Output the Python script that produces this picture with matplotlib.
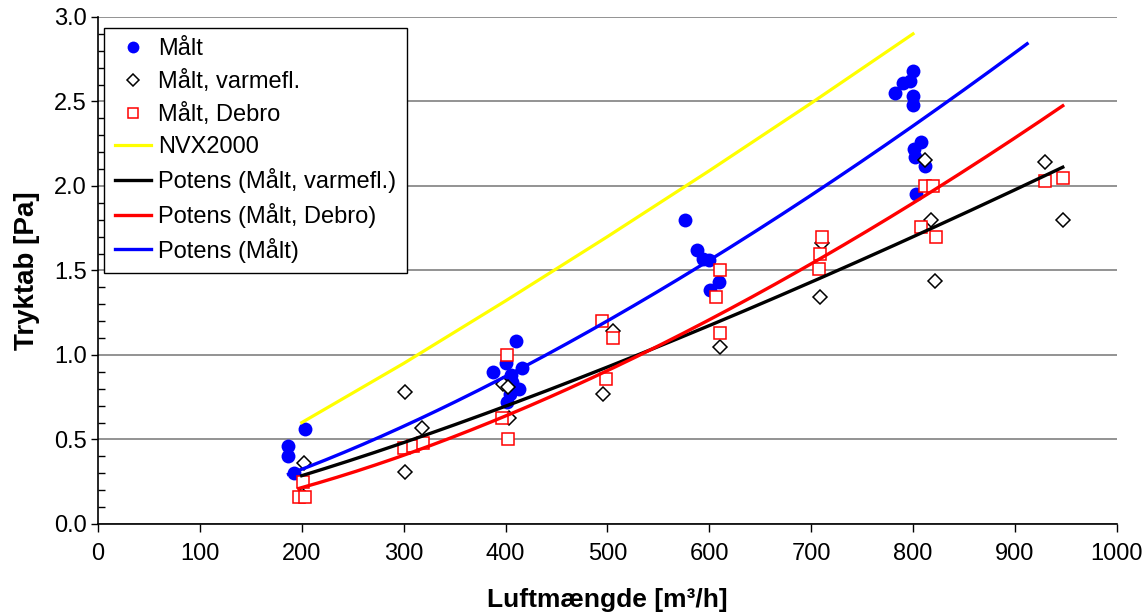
import numpy as np
import matplotlib
matplotlib.use("Agg")
import matplotlib.pyplot as plt
from matplotlib.ticker import MultipleLocator, FormatStrFormatter

plt.rcParams['font.family'] = ['Liberation Sans', 'DejaVu Sans']

# Målt (blue dots)
malt_x = [187, 187, 192, 203, 388, 400, 401, 404, 405, 406, 410, 413, 416,
          576, 588, 594, 600, 601, 610,
          782, 790, 797, 800, 800, 800, 801, 802, 808, 812, 803]
malt_y = [0.46, 0.40, 0.30, 0.56, 0.90, 0.95, 0.72, 0.77, 0.88, 0.84, 1.08, 0.80, 0.92,
          1.80, 1.62, 1.57, 1.56, 1.385, 1.43,
          2.55, 2.61, 2.62, 2.68, 2.53, 2.48, 2.22, 2.17, 2.26, 2.12, 1.95]

# Målt, varmefl. (diamonds)
varm_x = [200, 202, 301, 301, 318, 398, 402, 403, 496, 506, 611, 709, 711, 812, 818, 822, 930, 947]
varm_y = [0.17, 0.36, 0.78, 0.31, 0.57, 0.83, 0.81, 0.63, 0.77, 1.14, 1.045, 1.345, 1.66,
          2.155, 1.80, 1.44, 2.14, 1.80]

# Målt, Debro (squares)
debro_x = [197, 203, 201, 300, 309, 319, 401, 397, 402, 495, 506, 499, 611, 607, 611,
           711, 709, 708, 812, 820, 808, 823, 930, 947]
debro_y = [0.16, 0.16, 0.25, 0.45, 0.46, 0.48, 1.00, 0.63, 0.50, 1.20, 1.10, 0.86, 1.50, 1.345, 1.13,
           1.70, 1.60, 1.51, 2.00, 2.00, 1.76, 1.70, 2.03, 2.05]

# NVX2000
nvx_x = [200, 300, 400, 500, 600, 700, 800]
nvx_y = [0.60, 0.95, 1.32, 1.70, 2.09, 2.49, 2.90]

# power trendlines y = a * x^b
varm_fit = (3.14e-4, 1.286)
debro_fit = (5.22e-5, 1.571)
malt_fit = (1.64e-4, 1.432)


def trend(x, coef, forward=0):
    a, b = coef
    xs = np.linspace(min(x), max(x) + forward, 200)
    return xs, a * xs ** b


fig = plt.figure(figsize=(11.46, 6.15), dpi=100)
ax = fig.add_axes([0.0855, 0.148, 0.889, 0.8244])

ax.plot(malt_x, malt_y, 'o', color='#0000ff', markersize=10, markeredgewidth=0,
        label='Målt', zorder=3)
ax.plot(varm_x, varm_y, 'D', color='k', markerfacecolor='white', markersize=7,
        markeredgewidth=1.1, label='Målt, varmefl.', zorder=4)
ax.plot(debro_x, debro_y, 's', color='#ff0000', markerfacecolor='white', markersize=9,
        markeredgewidth=1.1, label='Målt, Debro', zorder=5)
ax.plot(nvx_x, nvx_y, '-', color='#ffff00', linewidth=2.3, label='NVX2000', zorder=6)

xs, ys = trend(varm_x, varm_fit)
ax.plot(xs, ys, '-', color='k', linewidth=2.4, label='Potens (Målt, varmefl.)', zorder=7)
xs, ys = trend(debro_x, debro_fit)
ax.plot(xs, ys, '-', color='#ff0000', linewidth=2.4, label='Potens (Målt, Debro)', zorder=7)
xs, ys = trend(malt_x, malt_fit, forward=100)
ax.plot(xs, ys, '-', color='#0000ff', linewidth=2.4, label='Potens (Målt)', zorder=7)

ax.set_xlim(0, 1000)
ax.set_ylim(0, 3)
ax.xaxis.set_major_locator(MultipleLocator(100))
ax.yaxis.set_major_locator(MultipleLocator(0.5))
ax.yaxis.set_minor_locator(MultipleLocator(0.1))
ax.yaxis.set_major_formatter(FormatStrFormatter('%.1f'))
ax.grid(axis='y', which='major', color='#808080', linewidth=1.2, zorder=0)
ax.set_axisbelow(True)

for s in ['top', 'right']:
    ax.spines[s].set_visible(False)
for s in ['left', 'bottom']:
    ax.spines[s].set_linewidth(1.2)
    ax.spines[s].set_color('k')

ax.tick_params(axis='x', which='major', direction='out', length=6, width=1, labelsize=17, pad=8)
ax.tick_params(axis='y', which='major', direction='out', length=5, width=1, labelsize=17, pad=3)
ax.tick_params(axis='y', which='minor', direction='in', length=5, width=1)

ax.set_xlabel('Luftmængde [m³/h]', fontsize=19, fontweight='bold', labelpad=16)
ax.set_ylabel('Tryktab [Pa]', fontsize=20, fontweight='bold', labelpad=10)

leg = ax.legend(loc='upper left', bbox_to_anchor=(0.006, 0.979), borderaxespad=0,
                fontsize=17, frameon=True, fancybox=False, framealpha=1,
                edgecolor='k', labelspacing=0.42, handlelength=1.55,
                handletextpad=0.3, borderpad=0.45, markerscale=0.85)
leg.get_frame().set_linewidth(1.0)

fig.savefig('out.png', dpi=100)
